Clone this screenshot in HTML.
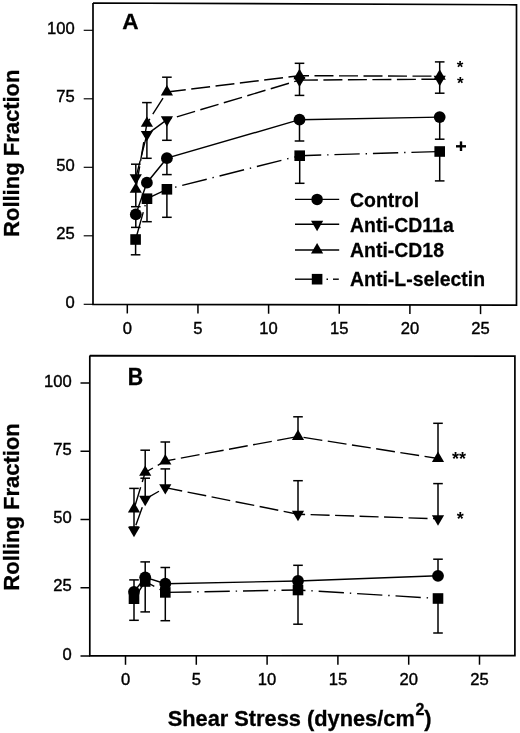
<!DOCTYPE html>
<html><head><meta charset="utf-8"><title>Rolling Fraction vs Shear Stress</title>
<style>html,body{margin:0;padding:0;background:#fff;} svg{display:block;will-change:transform;} text{font-family:"Liberation Sans",sans-serif;fill:#000;}</style>
</head><body>
<svg width="520" height="733" viewBox="0 0 520 733" font-family="Liberation Sans, sans-serif">
<rect width="520" height="733" fill="#fff"/>
<polyline points="93.00,3.00 516.50,4.80 516.50,305.20 93.00,304.40 93.00,3.00" fill="none" stroke="#000" stroke-width="1.7"/>
<line x1="83.70" y1="30.30" x2="93.00" y2="30.30" stroke="#000" stroke-width="1.15" stroke-linecap="butt"/>
<text transform="translate(74.80,33.90)" font-size="16.6" text-anchor="end" stroke="#000" stroke-width="0.4">100</text>
<line x1="83.70" y1="98.80" x2="93.00" y2="98.80" stroke="#000" stroke-width="1.15" stroke-linecap="butt"/>
<text transform="translate(74.80,102.40)" font-size="16.6" text-anchor="end" stroke="#000" stroke-width="0.4">75</text>
<line x1="83.70" y1="167.30" x2="93.00" y2="167.30" stroke="#000" stroke-width="1.15" stroke-linecap="butt"/>
<text transform="translate(74.80,170.90)" font-size="16.6" text-anchor="end" stroke="#000" stroke-width="0.4">50</text>
<line x1="83.70" y1="235.80" x2="93.00" y2="235.80" stroke="#000" stroke-width="1.15" stroke-linecap="butt"/>
<text transform="translate(74.80,239.40)" font-size="16.6" text-anchor="end" stroke="#000" stroke-width="0.4">25</text>
<line x1="83.70" y1="304.30" x2="93.00" y2="304.30" stroke="#000" stroke-width="1.15" stroke-linecap="butt"/>
<text transform="translate(74.80,307.90)" font-size="16.6" text-anchor="end" stroke="#000" stroke-width="0.4">0</text>
<line x1="127.30" y1="304.46" x2="127.30" y2="313.46" stroke="#000" stroke-width="1.5" stroke-linecap="butt"/>
<text transform="translate(127.30,333.60)" font-size="16.6" text-anchor="middle" stroke="#000" stroke-width="0.4">0</text>
<line x1="197.95" y1="304.60" x2="197.95" y2="313.60" stroke="#000" stroke-width="1.5" stroke-linecap="butt"/>
<text transform="translate(197.95,333.60)" font-size="16.6" text-anchor="middle" stroke="#000" stroke-width="0.4">5</text>
<line x1="268.60" y1="304.73" x2="268.60" y2="313.73" stroke="#000" stroke-width="1.5" stroke-linecap="butt"/>
<text transform="translate(268.60,333.60)" font-size="16.6" text-anchor="middle" stroke="#000" stroke-width="0.4">10</text>
<line x1="339.25" y1="304.87" x2="339.25" y2="313.87" stroke="#000" stroke-width="1.5" stroke-linecap="butt"/>
<text transform="translate(339.25,333.60)" font-size="16.6" text-anchor="middle" stroke="#000" stroke-width="0.4">15</text>
<line x1="409.90" y1="305.00" x2="409.90" y2="314.00" stroke="#000" stroke-width="1.5" stroke-linecap="butt"/>
<text transform="translate(409.90,333.60)" font-size="16.6" text-anchor="middle" stroke="#000" stroke-width="0.4">20</text>
<line x1="480.55" y1="305.13" x2="480.55" y2="314.13" stroke="#000" stroke-width="1.5" stroke-linecap="butt"/>
<text transform="translate(480.55,333.60)" font-size="16.6" text-anchor="middle" stroke="#000" stroke-width="0.4">25</text>
<text transform="translate(122.32,28.70)" font-size="22.6" font-weight="bold" text-anchor="start" stroke="#000" stroke-width="0.3">A</text>
<polyline points="89.80,355.60 514.90,356.20 514.90,655.70 89.80,655.80 89.80,355.60" fill="none" stroke="#000" stroke-width="1.7"/>
<line x1="80.50" y1="383.00" x2="89.80" y2="383.00" stroke="#000" stroke-width="1.5" stroke-linecap="butt"/>
<text transform="translate(71.80,386.60)" font-size="16.6" text-anchor="end" stroke="#000" stroke-width="0.4">100</text>
<line x1="80.50" y1="451.25" x2="89.80" y2="451.25" stroke="#000" stroke-width="1.5" stroke-linecap="butt"/>
<text transform="translate(71.80,454.85)" font-size="16.6" text-anchor="end" stroke="#000" stroke-width="0.4">75</text>
<line x1="80.50" y1="519.50" x2="89.80" y2="519.50" stroke="#000" stroke-width="1.5" stroke-linecap="butt"/>
<text transform="translate(71.80,523.10)" font-size="16.6" text-anchor="end" stroke="#000" stroke-width="0.4">50</text>
<line x1="80.50" y1="587.75" x2="89.80" y2="587.75" stroke="#000" stroke-width="1.5" stroke-linecap="butt"/>
<text transform="translate(71.80,591.35)" font-size="16.6" text-anchor="end" stroke="#000" stroke-width="0.4">25</text>
<line x1="80.50" y1="656.00" x2="89.80" y2="656.00" stroke="#000" stroke-width="1.5" stroke-linecap="butt"/>
<text transform="translate(71.80,659.60)" font-size="16.6" text-anchor="end" stroke="#000" stroke-width="0.4">0</text>
<line x1="125.50" y1="655.79" x2="125.50" y2="664.79" stroke="#000" stroke-width="1.5" stroke-linecap="butt"/>
<text transform="translate(125.50,685.20)" font-size="16.6" text-anchor="middle" stroke="#000" stroke-width="0.4">0</text>
<line x1="196.30" y1="655.77" x2="196.30" y2="664.77" stroke="#000" stroke-width="1.5" stroke-linecap="butt"/>
<text transform="translate(196.30,685.20)" font-size="16.6" text-anchor="middle" stroke="#000" stroke-width="0.4">5</text>
<line x1="267.10" y1="655.76" x2="267.10" y2="664.76" stroke="#000" stroke-width="1.5" stroke-linecap="butt"/>
<text transform="translate(267.10,685.20)" font-size="16.6" text-anchor="middle" stroke="#000" stroke-width="0.4">10</text>
<line x1="337.90" y1="655.74" x2="337.90" y2="664.74" stroke="#000" stroke-width="1.5" stroke-linecap="butt"/>
<text transform="translate(337.90,685.20)" font-size="16.6" text-anchor="middle" stroke="#000" stroke-width="0.4">15</text>
<line x1="408.70" y1="655.72" x2="408.70" y2="664.72" stroke="#000" stroke-width="1.5" stroke-linecap="butt"/>
<text transform="translate(408.70,685.20)" font-size="16.6" text-anchor="middle" stroke="#000" stroke-width="0.4">20</text>
<line x1="479.50" y1="655.71" x2="479.50" y2="664.71" stroke="#000" stroke-width="1.5" stroke-linecap="butt"/>
<text transform="translate(479.50,685.20)" font-size="16.6" text-anchor="middle" stroke="#000" stroke-width="0.4">25</text>
<text transform="translate(127.71,384.90) scale(0.92,1)" font-size="23.2" font-weight="bold" text-anchor="start" stroke="#000" stroke-width="0.3">B</text>
<polyline points="135.80,214.40 146.90,182.70 166.90,158.20 299.50,119.70 439.70,117.10" fill="none" stroke="#000" stroke-width="1.4"/>
<line x1="135.60" y1="239.50" x2="147.00" y2="198.70" stroke="#000" stroke-width="1.4" stroke-dasharray="25.3 5.9 1.4 5.9" stroke-dashoffset="35.33"/>
<line x1="147.00" y1="198.70" x2="166.90" y2="189.30" stroke="#000" stroke-width="1.4" stroke-dasharray="25.3 5.9 1.4 5.9" stroke-dashoffset="0.69"/>
<line x1="166.90" y1="189.30" x2="299.70" y2="155.70" stroke="#000" stroke-width="1.4" stroke-dasharray="25.3 5.9 1.4 5.9" stroke-dashoffset="22.70"/>
<line x1="299.70" y1="155.70" x2="439.70" y2="151.50" stroke="#000" stroke-width="1.4" stroke-dasharray="25.3 5.9 1.4 5.9" stroke-dashoffset="3.75"/>
<line x1="135.80" y1="189.40" x2="146.90" y2="123.40" stroke="#000" stroke-width="1.4" stroke-dasharray="19 5.5" stroke-dashoffset="20.07"/>
<line x1="146.90" y1="123.40" x2="166.90" y2="92.00" stroke="#000" stroke-width="1.4" stroke-dasharray="19 5.5" stroke-dashoffset="13.50"/>
<line x1="166.90" y1="92.00" x2="299.50" y2="75.70" stroke="#000" stroke-width="1.4" stroke-dasharray="19 5.5" stroke-dashoffset="0.00"/>
<line x1="299.50" y1="75.70" x2="439.70" y2="76.20" stroke="#000" stroke-width="1.4" stroke-dasharray="19 5.5" stroke-dashoffset="9.50"/>
<line x1="135.80" y1="177.80" x2="146.90" y2="134.40" stroke="#000" stroke-width="1.4" stroke-dasharray="19 5.5" stroke-dashoffset="1.20"/>
<line x1="146.90" y1="134.40" x2="166.90" y2="119.80" stroke="#000" stroke-width="1.4" stroke-dasharray="19 5.5" stroke-dashoffset="21.50"/>
<line x1="166.90" y1="119.80" x2="299.50" y2="80.10" stroke="#000" stroke-width="1.4" stroke-dasharray="19 5.5" stroke-dashoffset="14.10"/>
<line x1="299.50" y1="80.10" x2="439.70" y2="79.20" stroke="#000" stroke-width="1.4" stroke-dasharray="19 5.5" stroke-dashoffset="0.60"/>
<line x1="135.80" y1="177.80" x2="135.80" y2="164.20" stroke="#000" stroke-width="1.5" stroke-linecap="butt"/><line x1="131.00" y1="164.20" x2="140.60" y2="164.20" stroke="#000" stroke-width="1.5" stroke-linecap="butt"/>
<line x1="135.80" y1="189.40" x2="135.80" y2="206.70" stroke="#000" stroke-width="1.5" stroke-linecap="butt"/><line x1="131.00" y1="206.70" x2="140.60" y2="206.70" stroke="#000" stroke-width="1.5" stroke-linecap="butt"/>
<line x1="135.80" y1="214.40" x2="135.80" y2="227.40" stroke="#000" stroke-width="1.5" stroke-linecap="butt"/><line x1="131.00" y1="227.40" x2="140.60" y2="227.40" stroke="#000" stroke-width="1.5" stroke-linecap="butt"/>
<line x1="135.60" y1="239.50" x2="135.60" y2="254.80" stroke="#000" stroke-width="1.5" stroke-linecap="butt"/><line x1="130.80" y1="254.80" x2="140.40" y2="254.80" stroke="#000" stroke-width="1.5" stroke-linecap="butt"/>
<line x1="146.90" y1="134.40" x2="146.90" y2="158.30" stroke="#000" stroke-width="1.5" stroke-linecap="butt"/><line x1="142.10" y1="158.30" x2="151.70" y2="158.30" stroke="#000" stroke-width="1.5" stroke-linecap="butt"/>
<line x1="146.90" y1="123.40" x2="146.90" y2="102.60" stroke="#000" stroke-width="1.5" stroke-linecap="butt"/><line x1="142.10" y1="102.60" x2="151.70" y2="102.60" stroke="#000" stroke-width="1.5" stroke-linecap="butt"/>
<line x1="147.00" y1="198.70" x2="147.00" y2="221.70" stroke="#000" stroke-width="1.5" stroke-linecap="butt"/><line x1="142.20" y1="221.70" x2="151.80" y2="221.70" stroke="#000" stroke-width="1.5" stroke-linecap="butt"/>
<line x1="166.90" y1="119.80" x2="166.90" y2="140.30" stroke="#000" stroke-width="1.5" stroke-linecap="butt"/><line x1="162.10" y1="140.30" x2="171.70" y2="140.30" stroke="#000" stroke-width="1.5" stroke-linecap="butt"/>
<line x1="166.90" y1="92.00" x2="166.90" y2="77.20" stroke="#000" stroke-width="1.5" stroke-linecap="butt"/><line x1="162.10" y1="77.20" x2="171.70" y2="77.20" stroke="#000" stroke-width="1.5" stroke-linecap="butt"/>
<line x1="166.90" y1="158.20" x2="166.90" y2="174.60" stroke="#000" stroke-width="1.5" stroke-linecap="butt"/><line x1="162.10" y1="174.60" x2="171.70" y2="174.60" stroke="#000" stroke-width="1.5" stroke-linecap="butt"/>
<line x1="166.90" y1="189.30" x2="166.90" y2="217.30" stroke="#000" stroke-width="1.5" stroke-linecap="butt"/><line x1="162.10" y1="217.30" x2="171.70" y2="217.30" stroke="#000" stroke-width="1.5" stroke-linecap="butt"/>
<line x1="299.50" y1="75.70" x2="299.50" y2="63.30" stroke="#000" stroke-width="1.5" stroke-linecap="butt"/><line x1="294.70" y1="63.30" x2="304.30" y2="63.30" stroke="#000" stroke-width="1.5" stroke-linecap="butt"/>
<line x1="299.50" y1="80.10" x2="299.50" y2="95.40" stroke="#000" stroke-width="1.5" stroke-linecap="butt"/><line x1="294.70" y1="95.40" x2="304.30" y2="95.40" stroke="#000" stroke-width="1.5" stroke-linecap="butt"/>
<line x1="299.50" y1="119.70" x2="299.50" y2="141.00" stroke="#000" stroke-width="1.5" stroke-linecap="butt"/><line x1="294.70" y1="141.00" x2="304.30" y2="141.00" stroke="#000" stroke-width="1.5" stroke-linecap="butt"/>
<line x1="299.70" y1="155.70" x2="299.70" y2="183.30" stroke="#000" stroke-width="1.5" stroke-linecap="butt"/><line x1="294.90" y1="183.30" x2="304.50" y2="183.30" stroke="#000" stroke-width="1.5" stroke-linecap="butt"/>
<line x1="439.70" y1="76.20" x2="439.70" y2="61.90" stroke="#000" stroke-width="1.5" stroke-linecap="butt"/><line x1="434.90" y1="61.90" x2="444.50" y2="61.90" stroke="#000" stroke-width="1.5" stroke-linecap="butt"/>
<line x1="439.70" y1="79.20" x2="439.70" y2="93.20" stroke="#000" stroke-width="1.5" stroke-linecap="butt"/><line x1="434.90" y1="93.20" x2="444.50" y2="93.20" stroke="#000" stroke-width="1.5" stroke-linecap="butt"/>
<line x1="439.70" y1="117.10" x2="439.70" y2="139.20" stroke="#000" stroke-width="1.5" stroke-linecap="butt"/><line x1="434.90" y1="139.20" x2="444.50" y2="139.20" stroke="#000" stroke-width="1.5" stroke-linecap="butt"/>
<line x1="439.70" y1="151.50" x2="439.70" y2="180.90" stroke="#000" stroke-width="1.5" stroke-linecap="butt"/><line x1="434.90" y1="180.90" x2="444.50" y2="180.90" stroke="#000" stroke-width="1.5" stroke-linecap="butt"/>
<circle cx="135.80" cy="214.40" r="5.9" fill="#000"/>
<circle cx="146.90" cy="182.70" r="5.9" fill="#000"/>
<circle cx="166.90" cy="158.20" r="5.9" fill="#000"/>
<circle cx="299.50" cy="119.70" r="5.9" fill="#000"/>
<circle cx="439.70" cy="117.10" r="5.9" fill="#000"/>
<rect x="130.30" y="234.20" width="10.6" height="10.6" fill="#000"/>
<rect x="141.70" y="193.40" width="10.6" height="10.6" fill="#000"/>
<rect x="161.60" y="184.00" width="10.6" height="10.6" fill="#000"/>
<rect x="294.40" y="150.40" width="10.6" height="10.6" fill="#000"/>
<rect x="434.40" y="146.20" width="10.6" height="10.6" fill="#000"/>
<polygon points="135.80,182.47 141.90,192.87 129.70,192.87" fill="#000"/>
<polygon points="146.90,116.47 153.00,126.87 140.80,126.87" fill="#000"/>
<polygon points="166.90,85.07 173.00,95.47 160.80,95.47" fill="#000"/>
<polygon points="299.50,68.77 305.60,79.17 293.40,79.17" fill="#000"/>
<polygon points="439.70,69.27 445.80,79.67 433.60,79.67" fill="#000"/>
<polygon points="135.80,184.73 141.90,174.33 129.70,174.33" fill="#000"/>
<polygon points="146.90,141.33 153.00,130.93 140.80,130.93" fill="#000"/>
<polygon points="166.90,126.73 173.00,116.33 160.80,116.33" fill="#000"/>
<polygon points="299.50,87.03 305.60,76.63 293.40,76.63" fill="#000"/>
<polygon points="439.70,86.13 445.80,75.73 433.60,75.73" fill="#000"/>
<polyline points="134.00,591.80 145.20,577.30 165.30,583.70 298.00,581.00 438.00,575.80" fill="none" stroke="#000" stroke-width="1.4"/>
<line x1="134.00" y1="598.70" x2="145.20" y2="581.50" stroke="#000" stroke-width="1.4" stroke-dasharray="25.3 5.9 1.4 5.9" stroke-dashoffset="32.91"/>
<line x1="145.20" y1="581.50" x2="165.30" y2="592.40" stroke="#000" stroke-width="1.4" stroke-dasharray="25.3 5.9 1.4 5.9" stroke-dashoffset="14.93"/>
<line x1="165.30" y1="592.40" x2="298.00" y2="590.00" stroke="#000" stroke-width="1.4" stroke-dasharray="25.3 5.9 1.4 5.9" stroke-dashoffset="-0.70"/>
<line x1="298.00" y1="590.00" x2="438.00" y2="598.50" stroke="#000" stroke-width="1.4" stroke-dasharray="25.3 5.9 1.4 5.9" stroke-dashoffset="17.80"/>
<line x1="134.00" y1="509.00" x2="145.20" y2="472.40" stroke="#000" stroke-width="1.4" stroke-dasharray="19 5.5" stroke-dashoffset="20.82"/>
<line x1="145.20" y1="472.40" x2="165.30" y2="461.00" stroke="#000" stroke-width="1.4" stroke-dasharray="19 5.5" stroke-dashoffset="10.09"/>
<line x1="165.30" y1="461.00" x2="298.00" y2="436.50" stroke="#000" stroke-width="1.4" stroke-dasharray="19 5.5" stroke-dashoffset="8.70"/>
<line x1="298.00" y1="436.50" x2="438.00" y2="458.50" stroke="#000" stroke-width="1.4" stroke-dasharray="19 5.5" stroke-dashoffset="18.90"/>
<line x1="134.00" y1="530.30" x2="145.20" y2="499.20" stroke="#000" stroke-width="1.4" stroke-dasharray="19 5.5" stroke-dashoffset="19.04"/>
<line x1="145.20" y1="499.20" x2="165.30" y2="487.60" stroke="#000" stroke-width="1.4" stroke-dasharray="19 5.5" stroke-dashoffset="3.09"/>
<line x1="165.30" y1="487.60" x2="298.00" y2="514.20" stroke="#000" stroke-width="1.4" stroke-dasharray="19 5.5" stroke-dashoffset="1.80"/>
<line x1="298.00" y1="514.20" x2="438.00" y2="518.80" stroke="#000" stroke-width="1.4" stroke-dasharray="19 5.5" stroke-dashoffset="11.90"/>
<line x1="134.00" y1="509.00" x2="134.00" y2="488.40" stroke="#000" stroke-width="1.5" stroke-linecap="butt"/><line x1="129.20" y1="488.40" x2="138.80" y2="488.40" stroke="#000" stroke-width="1.5" stroke-linecap="butt"/>
<line x1="134.00" y1="512.00" x2="134.00" y2="527.00" stroke="#000" stroke-width="1.5" stroke-linecap="butt"/><line x1="129.20" y1="527.00" x2="138.80" y2="527.00" stroke="#000" stroke-width="1.5" stroke-linecap="butt"/>
<line x1="134.00" y1="591.80" x2="134.00" y2="579.90" stroke="#000" stroke-width="1.5" stroke-linecap="butt"/><line x1="129.20" y1="579.90" x2="138.80" y2="579.90" stroke="#000" stroke-width="1.5" stroke-linecap="butt"/>
<line x1="134.00" y1="598.70" x2="134.00" y2="620.30" stroke="#000" stroke-width="1.5" stroke-linecap="butt"/><line x1="129.20" y1="620.30" x2="138.80" y2="620.30" stroke="#000" stroke-width="1.5" stroke-linecap="butt"/>
<line x1="145.20" y1="472.40" x2="145.20" y2="450.20" stroke="#000" stroke-width="1.5" stroke-linecap="butt"/><line x1="140.40" y1="450.20" x2="150.00" y2="450.20" stroke="#000" stroke-width="1.5" stroke-linecap="butt"/>
<line x1="145.20" y1="499.20" x2="145.20" y2="478.20" stroke="#000" stroke-width="1.5" stroke-linecap="butt"/><line x1="140.40" y1="478.20" x2="150.00" y2="478.20" stroke="#000" stroke-width="1.5" stroke-linecap="butt"/>
<line x1="145.20" y1="577.30" x2="145.20" y2="561.90" stroke="#000" stroke-width="1.5" stroke-linecap="butt"/><line x1="140.40" y1="561.90" x2="150.00" y2="561.90" stroke="#000" stroke-width="1.5" stroke-linecap="butt"/>
<line x1="145.20" y1="581.50" x2="145.20" y2="611.90" stroke="#000" stroke-width="1.5" stroke-linecap="butt"/><line x1="140.40" y1="611.90" x2="150.00" y2="611.90" stroke="#000" stroke-width="1.5" stroke-linecap="butt"/>
<line x1="165.30" y1="461.00" x2="165.30" y2="442.00" stroke="#000" stroke-width="1.5" stroke-linecap="butt"/><line x1="160.50" y1="442.00" x2="170.10" y2="442.00" stroke="#000" stroke-width="1.5" stroke-linecap="butt"/>
<line x1="165.30" y1="487.60" x2="165.30" y2="468.90" stroke="#000" stroke-width="1.5" stroke-linecap="butt"/><line x1="160.50" y1="468.90" x2="170.10" y2="468.90" stroke="#000" stroke-width="1.5" stroke-linecap="butt"/>
<line x1="165.30" y1="583.70" x2="165.30" y2="567.50" stroke="#000" stroke-width="1.5" stroke-linecap="butt"/><line x1="160.50" y1="567.50" x2="170.10" y2="567.50" stroke="#000" stroke-width="1.5" stroke-linecap="butt"/>
<line x1="165.30" y1="592.40" x2="165.30" y2="620.70" stroke="#000" stroke-width="1.5" stroke-linecap="butt"/><line x1="160.50" y1="620.70" x2="170.10" y2="620.70" stroke="#000" stroke-width="1.5" stroke-linecap="butt"/>
<line x1="298.00" y1="436.50" x2="298.00" y2="416.80" stroke="#000" stroke-width="1.5" stroke-linecap="butt"/><line x1="293.20" y1="416.80" x2="302.80" y2="416.80" stroke="#000" stroke-width="1.5" stroke-linecap="butt"/>
<line x1="298.00" y1="514.20" x2="298.00" y2="480.70" stroke="#000" stroke-width="1.5" stroke-linecap="butt"/><line x1="293.20" y1="480.70" x2="302.80" y2="480.70" stroke="#000" stroke-width="1.5" stroke-linecap="butt"/>
<line x1="298.00" y1="581.00" x2="298.00" y2="565.30" stroke="#000" stroke-width="1.5" stroke-linecap="butt"/><line x1="293.20" y1="565.30" x2="302.80" y2="565.30" stroke="#000" stroke-width="1.5" stroke-linecap="butt"/>
<line x1="298.00" y1="590.00" x2="298.00" y2="624.20" stroke="#000" stroke-width="1.5" stroke-linecap="butt"/><line x1="293.20" y1="624.20" x2="302.80" y2="624.20" stroke="#000" stroke-width="1.5" stroke-linecap="butt"/>
<line x1="438.00" y1="458.50" x2="438.00" y2="423.30" stroke="#000" stroke-width="1.5" stroke-linecap="butt"/><line x1="433.20" y1="423.30" x2="442.80" y2="423.30" stroke="#000" stroke-width="1.5" stroke-linecap="butt"/>
<line x1="438.00" y1="518.80" x2="438.00" y2="483.60" stroke="#000" stroke-width="1.5" stroke-linecap="butt"/><line x1="433.20" y1="483.60" x2="442.80" y2="483.60" stroke="#000" stroke-width="1.5" stroke-linecap="butt"/>
<line x1="438.00" y1="575.80" x2="438.00" y2="559.20" stroke="#000" stroke-width="1.5" stroke-linecap="butt"/><line x1="433.20" y1="559.20" x2="442.80" y2="559.20" stroke="#000" stroke-width="1.5" stroke-linecap="butt"/>
<line x1="438.00" y1="598.50" x2="438.00" y2="633.00" stroke="#000" stroke-width="1.5" stroke-linecap="butt"/><line x1="433.20" y1="633.00" x2="442.80" y2="633.00" stroke="#000" stroke-width="1.5" stroke-linecap="butt"/>
<rect x="128.70" y="593.40" width="10.6" height="10.6" fill="#000"/>
<rect x="139.90" y="576.20" width="10.6" height="10.6" fill="#000"/>
<rect x="160.00" y="587.10" width="10.6" height="10.6" fill="#000"/>
<rect x="292.70" y="584.70" width="10.6" height="10.6" fill="#000"/>
<rect x="432.70" y="593.20" width="10.6" height="10.6" fill="#000"/>
<circle cx="134.00" cy="591.80" r="5.9" fill="#000"/>
<circle cx="145.20" cy="577.30" r="5.9" fill="#000"/>
<circle cx="165.30" cy="583.70" r="5.9" fill="#000"/>
<circle cx="298.00" cy="581.00" r="5.9" fill="#000"/>
<circle cx="438.00" cy="575.80" r="5.9" fill="#000"/>
<polygon points="134.00,502.07 140.10,512.47 127.90,512.47" fill="#000"/>
<polygon points="145.20,465.47 151.30,475.87 139.10,475.87" fill="#000"/>
<polygon points="165.30,454.07 171.40,464.47 159.20,464.47" fill="#000"/>
<polygon points="298.00,429.57 304.10,439.97 291.90,439.97" fill="#000"/>
<polygon points="438.00,451.57 444.10,461.97 431.90,461.97" fill="#000"/>
<polygon points="134.00,537.23 140.10,526.83 127.90,526.83" fill="#000"/>
<polygon points="145.20,506.13 151.30,495.73 139.10,495.73" fill="#000"/>
<polygon points="165.30,494.53 171.40,484.13 159.20,484.13" fill="#000"/>
<polygon points="298.00,521.13 304.10,510.73 291.90,510.73" fill="#000"/>
<polygon points="438.00,525.73 444.10,515.33 431.90,515.33" fill="#000"/>
<line x1="295.00" y1="199.40" x2="339.20" y2="199.40" stroke="#000" stroke-width="1.4" stroke-linecap="butt"/>
<circle cx="317.10" cy="199.40" r="5.75" fill="#000"/>
<text transform="translate(350.03,207.00) scale(1.008,1)" font-size="19.3" font-weight="bold" text-anchor="start" stroke="#000" stroke-width="0.25">Control</text>
<line x1="295.00" y1="224.20" x2="339.20" y2="224.20" stroke="#000" stroke-width="1.4" stroke-linecap="butt"/>
<polygon points="317.10,231.13 323.20,220.73 311.00,220.73" fill="#000"/>
<text transform="translate(350.03,231.60) scale(1.008,1)" font-size="19.3" font-weight="bold" text-anchor="start" stroke="#000" stroke-width="0.25">Anti-CD11a</text>
<line x1="295.00" y1="250.00" x2="339.20" y2="250.00" stroke="#000" stroke-width="1.4" stroke-linecap="butt"/>
<polygon points="317.10,243.07 323.20,253.47 311.00,253.47" fill="#000"/>
<text transform="translate(350.03,257.20) scale(1.008,1)" font-size="19.3" font-weight="bold" text-anchor="start" stroke="#000" stroke-width="0.25">Anti-CD18</text>
<line x1="295.00" y1="279.20" x2="312.00" y2="279.20" stroke="#000" stroke-width="1.4" stroke-linecap="butt"/>
<line x1="326.50" y1="279.20" x2="328.00" y2="279.20" stroke="#000" stroke-width="1.4" stroke-linecap="butt"/>
<line x1="333.00" y1="279.20" x2="338.80" y2="279.20" stroke="#000" stroke-width="1.4" stroke-linecap="butt"/>
<rect x="311.80" y="273.90" width="10.6" height="10.6" fill="#000"/>
<text transform="translate(350.03,286.20) scale(1.008,1)" font-size="19.3" font-weight="bold" text-anchor="start" stroke="#000" stroke-width="0.25">Anti-L-selectin</text>
<text transform="translate(456.80,72.50)" font-size="17" font-weight="bold" text-anchor="start">*</text>
<text transform="translate(456.90,88.50)" font-size="17" font-weight="bold" text-anchor="start">*</text>
<line x1="456.00" y1="146.30" x2="466.00" y2="146.30" stroke="#000" stroke-width="2.4" stroke-linecap="butt"/>
<line x1="461.00" y1="141.40" x2="461.00" y2="151.00" stroke="#000" stroke-width="2.4" stroke-linecap="butt"/>
<text transform="translate(452.00,464.80)" font-size="18" font-weight="bold" text-anchor="start">**</text>
<text transform="translate(456.70,524.90)" font-size="18" font-weight="bold" text-anchor="start">*</text>
<text transform="translate(18.90,236.94) rotate(-90)" font-size="22.0" font-weight="bold" text-anchor="start" stroke="#000" stroke-width="0.3">Rolling Fraction</text>
<text transform="translate(19.00,590.64) rotate(-90)" font-size="22.0" font-weight="bold" text-anchor="start" stroke="#000" stroke-width="0.3">Rolling Fraction</text>
<text transform="translate(167.65,725.60)" font-size="21.8" font-weight="bold" text-anchor="start" stroke="#000" stroke-width="0.3">Shear Stress (dynes/cm<tspan font-size="16" dx="0.6" dy="-10.5">2</tspan><tspan dy="10.5">)</tspan></text>
</svg>
</body></html>
